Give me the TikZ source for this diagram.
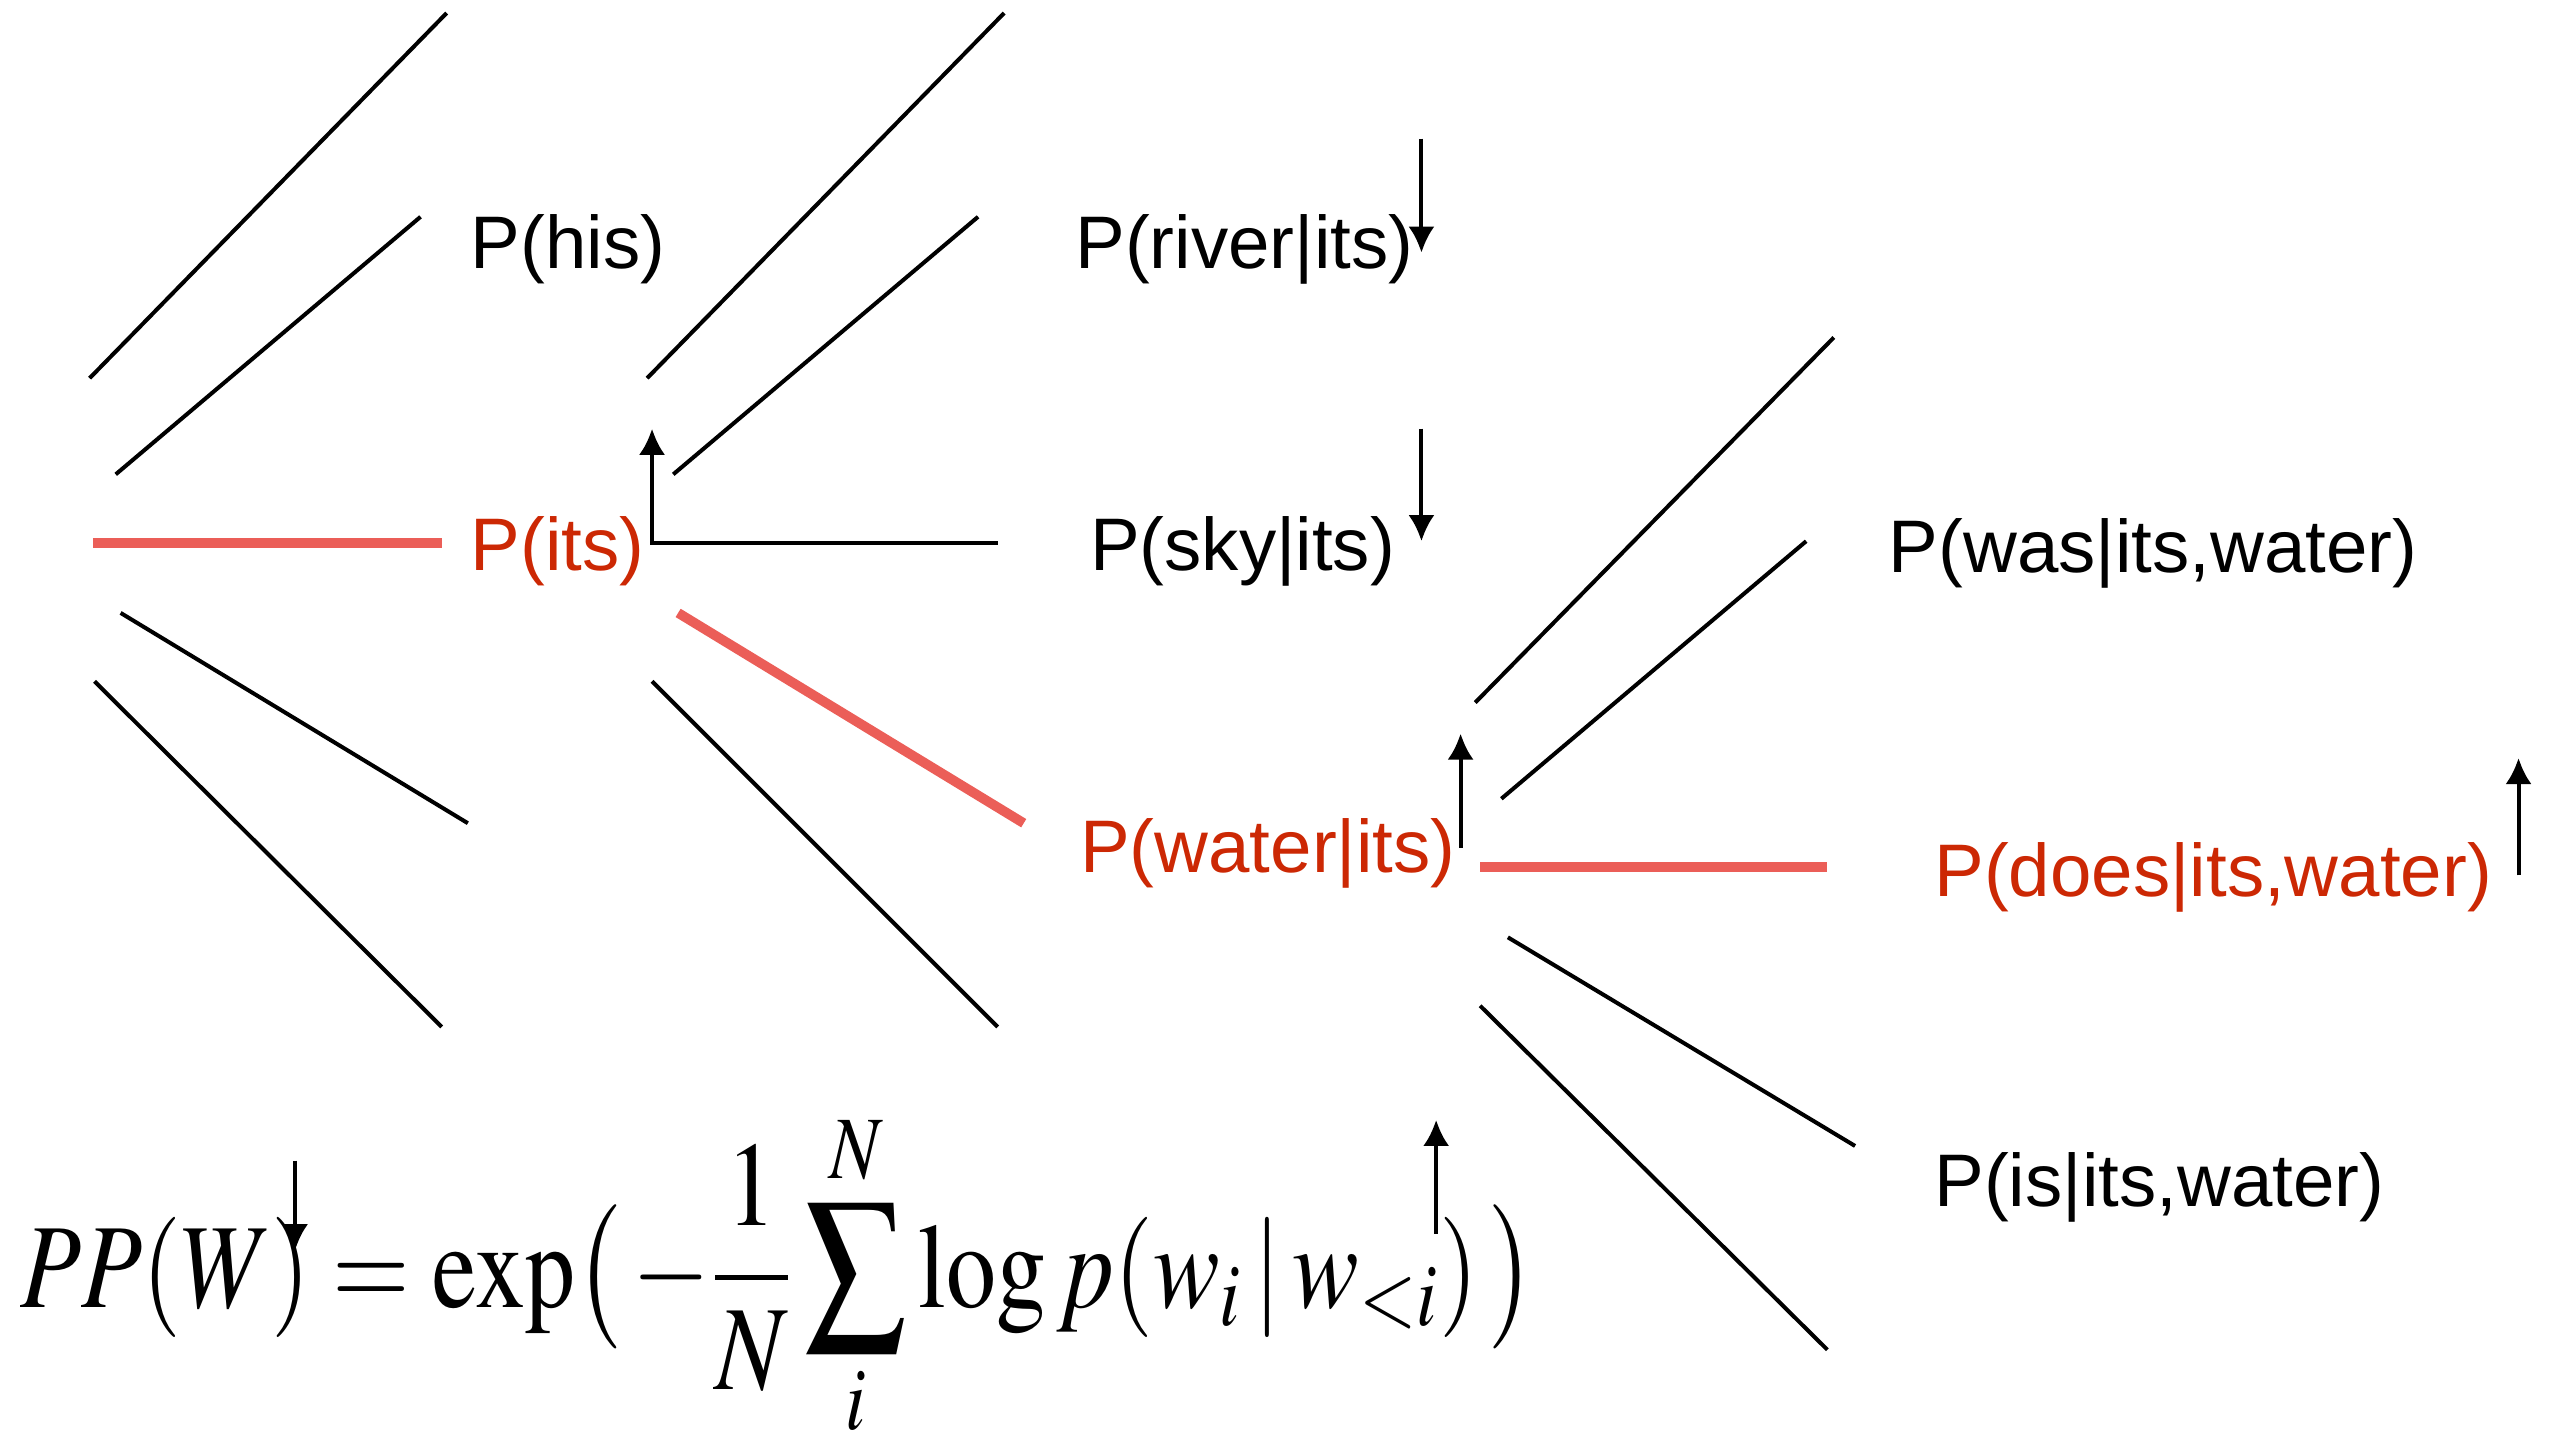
\documentclass[tikz,border=0pt]{standalone}
\usepackage{mathptmx}
\usepackage[no-math]{fontspec}
\newfontfamily\labelfont{Liberation Sans}
\definecolor{myTextRed}{RGB}{204,40,4}
\definecolor{myLineRed}{RGB}{235,94,88}
\usetikzlibrary{arrows.meta, positioning, calc}

\begin{document}
\begin{tikzpicture}[
  >={Latex[length=1.6mm,width=1.6mm]},
  branch/.style={line width=0.7pt},
  hot/.style={line width=1.7pt, myLineRed},
  pointer/.style={->, line width=0.7pt},
  word/.style={font=\labelfont\fontsize{13}{15}\selectfont, inner sep=0pt, anchor=base west},
  hotword/.style={word, text=myTextRed}]
  \useasboundingbox (0,0) rectangle (15.68,8.86);

  % first fan, from the start
  \begin{scope}[shift={(0.55,5.53)}]
    \draw[branch] (0,1.01) -- (2.19,3.25);
    \draw[branch] (0.16,0.42) -- (2.03,2.00);
    \draw[hot] (0.02,0) -- (2.16,0);
    \draw[branch] (0.19,-0.43) -- (2.32,-1.72);
    \draw[branch] (0.03,-0.85) -- (2.16,-2.97);
  \end{scope}
  % second fan, after "its"
  \begin{scope}[shift={(3.97,5.53)}]
    \draw[branch] (0,1.01) -- (2.19,3.25);
    \draw[branch] (0.16,0.42) -- (2.03,2.00);
    \draw[hot] (0.19,-0.43) -- (2.31,-1.72);
    \draw[branch] (0.03,-0.85) -- (2.15,-2.97);
  \end{scope}
  % third fan, after "water"
  \begin{scope}[shift={(9.05,3.54)}]
    \draw[branch] (0,1.01) -- (2.20,3.25);
    \draw[branch] (0.16,0.42) -- (2.03,2.00);
    \draw[hot] (0.03,0) -- (2.16,0);
    \draw[branch] (0.20,-0.43) -- (2.33,-1.71);
    \draw[branch] (0.03,-0.85) -- (2.16,-2.96);
  \end{scope}

  \node[word] (his) at (2.88,7.21) {P(his)};
  \node[hotword] (its) at (2.88,5.36) {P(its)};
  \node[word] (river) at (6.59,7.21) {P(river|its)};
  \node[word] (sky) at (6.68,5.36) {P(sky|its)};
  \node[hotword] (water) at (6.62,3.51) {P(water|its)};
  \node[word] (was) at (11.58,5.35) {P(was|its,water)};
  \node[hotword] (does) at (11.86,3.36) {P(does|its,water)};
  \node[word] (is) at (11.86,1.46) {P(is|its,water)};

  \node[anchor=base west, inner sep=0pt, font=\fontsize{21}{25}\selectfont] (pp) at (0.12,0.84)
    {\scalebox{0.83}[1]{$\displaystyle PP(W) = \exp\bigl(\,-\frac{1}{N}\sum_{i}^{N}\log p(w_i\,|\,w_{<i})\,\bigr)$}};

  % pointers
  \coordinate (skyEnd) at (6.12,5.53);
  \coordinate (itsUp) at (4.00,6.23);
  \coordinate (riverTop) at (8.72,8.01);
  \coordinate (riverTip) at (8.72,7.31);
  \coordinate (skyTop) at (8.72,6.23);
  \coordinate (skyTip) at (8.72,5.54);
  \coordinate (waterFoot) at (8.96,3.66);
  \coordinate (waterTip) at (8.96,4.36);
  \coordinate (doesFoot) at (15.45,3.49);
  \coordinate (doesTip) at (15.45,4.21);
  \coordinate (ppTop) at (1.81,1.74);
  \coordinate (ppTip) at (1.81,1.19);
  \coordinate (logFoot) at (8.81,1.29);
  \coordinate (logTip) at (8.81,1.99);
  \draw[pointer] (skyEnd) -| (itsUp);
  \draw[pointer] (riverTop) -- (riverTip);
  \draw[pointer] (skyTop) -- (skyTip);
  \draw[pointer] (waterFoot) -- (waterTip);
  \draw[pointer] (doesFoot) -- (doesTip);
  \draw[pointer] (ppTop) -- (ppTip);
  \draw[pointer] (logFoot) -- (logTip);
\end{tikzpicture}
\end{document}
